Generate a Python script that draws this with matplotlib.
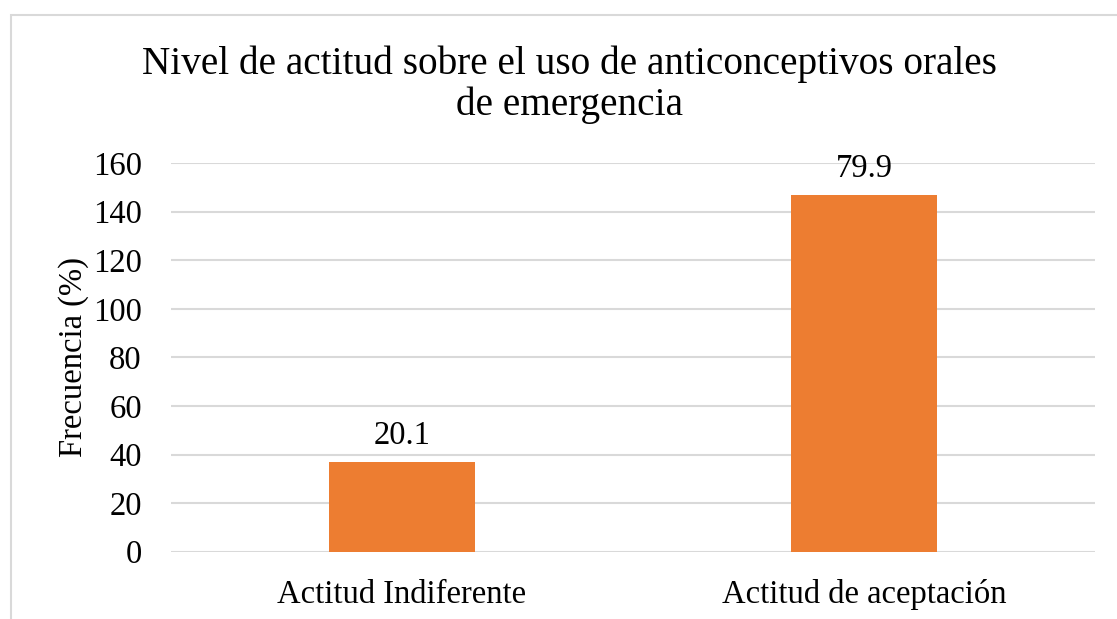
import matplotlib
matplotlib.use("Agg")
import matplotlib.pyplot as plt
from matplotlib.patches import Rectangle

categories = ["Actitud Indiferente", "Actitud de aceptación"]
values = [37, 147]
labels = ["20.1", "79.9"]
yticks = [0, 20, 40, 60, 80, 100, 120, 140, 160]

W, H = 1117, 619
fig = plt.figure(figsize=(W / 100, H / 100), dpi=100)
plt.rcParams['font.family'] = ['Liberation Serif', 'DejaVu Serif']

# outer chart border (cropped at right and bottom)
fig.patches.append(Rectangle((10.5 / W, -0.1), 2.0, (H - 14.5) / H + 0.1,
                             transform=fig.transFigure, fill=False,
                             edgecolor='#D9D9D9', linewidth=1.5))

left, right = 171 / W, 1095 / W
bottom, top = 1 - 551.7 / H, 1 - 163 / H
ax = fig.add_axes([left, bottom, right - left, top - bottom])

FS = 23.5
x = list(range(len(categories)))
ax.bar(x, values, width=0.314, color='#ED7D31', zorder=3)
ax.set_xlim(-0.5, 1.5)
ax.set_ylim(0, 160)
ax.set_yticks(yticks)
ax.set_yticklabels([str(t) for t in yticks], fontsize=FS)
ax.set_xticks(x)
ax.set_xticklabels(categories, fontsize=FS)
ax.tick_params(axis='both', length=0, colors='black')
ax.tick_params(axis='y', pad=21)
ax.tick_params(axis='x', pad=20)
ax.grid(axis='y', color='#D9D9D9', linewidth=1.5, zorder=0)
for s in ax.spines.values():
    s.set_visible(False)

for xi, v, lab in zip(x, values, labels):
    ax.annotate(lab, (xi, v), xytext=(0, 7.5), textcoords='offset points',
                ha='center', va='bottom', fontsize=FS)

ax.set_ylabel("Frecuencia (%)", fontsize=FS, labelpad=3)

fig.text(569 / W, 1 - 85 / H, "Nivel de actitud sobre el uso de anticonceptivos orales\nde emergencia",
         ha='center', va='center', fontsize=28.3, linespacing=1.14)

fig.savefig("out.png", dpi=100, facecolor='white')
